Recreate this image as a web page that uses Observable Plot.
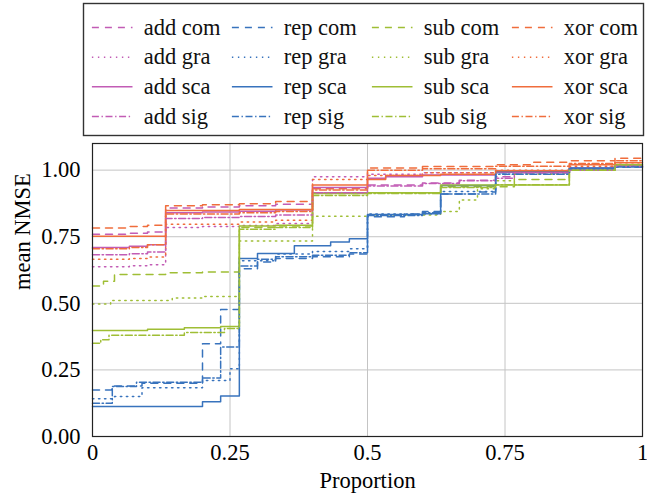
<!DOCTYPE html>
<html>
<head>
<meta charset="utf-8">
<script src="https://cdn.jsdelivr.net/npm/d3@7"></script>
<script src="https://cdn.jsdelivr.net/npm/@observablehq/plot@0.6"></script>
<style>
  html, body { margin: 0; padding: 0; background: white; }
  #chart svg { display: block; }
</style>
</head>
<body>
<div id="chart"></div>
<script>
// ---- data ----
const ops = ["add", "rep", "sub", "xor"];
const variants = ["com", "gra", "sca", "sig"];
const opColors = ["#c25cb5", "#3873bd", "#9fbe35", "#f06d3c"];
const xTicks = [0, 0.25, 0.5, 0.75, 1];
const yTicks = [0, 0.25, 0.5, 0.75, 1];

// [proportion, mean NMSE] step points (step-after)
const addCom = [[0,0.759],[0.067,0.763],[0.1,0.768],[0.133,0.858],[0.2,0.862],[0.267,0.866],[0.333,0.872],[0.4,0.915],[0.5,0.944],[0.6,0.952],[0.667,0.962],[0.733,0.975],[0.767,0.99],[0.867,1.005],[0.933,1.012],[1,1.012]];
const addGra = [[0,0.637],[0.067,0.641],[0.1,0.645],[0.133,0.785],[0.2,0.788],[0.267,0.792],[0.333,0.8],[0.4,0.975],[0.5,0.985],[0.6,0.99],[0.733,0.998],[0.867,1.008],[0.95,1.018],[1,1.018]];
const addSca = [[0,0.71],[0.067,0.714],[0.1,0.72],[0.133,0.84],[0.2,0.843],[0.267,0.846],[0.333,0.85],[0.4,0.935],[0.5,0.97],[0.533,0.975],[0.6,0.982],[0.733,0.992],[0.867,1.008],[0.95,1.018],[1,1.018]];
const addSig = [[0,0.682],[0.067,0.686],[0.1,0.693],[0.133,0.818],[0.2,0.822],[0.267,0.826],[0.333,0.832],[0.4,0.915],[0.5,0.94],[0.6,0.95],[0.667,0.96],[0.733,0.97],[0.767,0.99],[0.867,1.0],[0.95,1.015],[1,1.015]];

const repCom = [[0,0.175],[0.035,0.19],[0.09,0.2],[0.2,0.348],[0.233,0.477],[0.267,0.63],[0.3,0.655],[0.333,0.668],[0.4,0.675],[0.467,0.685],[0.5,0.825],[0.567,0.835],[0.6,0.845],[0.633,0.91],[0.7,0.918],[0.733,0.99],[0.867,1.005],[0.95,1.012],[1,1.012]];
const repGra = [[0,0.142],[0.04,0.15],[0.09,0.183],[0.2,0.21],[0.25,0.254],[0.267,0.66],[0.333,0.685],[0.4,0.695],[0.467,0.705],[0.5,0.835],[0.633,0.92],[0.733,0.99],[0.867,1.005],[0.95,1.012],[1,1.012]];
const repSca = [[0,0.113],[0.2,0.13],[0.233,0.152],[0.267,0.668],[0.3,0.687],[0.367,0.716],[0.433,0.73],[0.467,0.742],[0.5,0.833],[0.6,0.836],[0.633,0.942],[0.733,0.995],[0.867,1.008],[0.95,1.015],[1,1.015]];
const repSig = [[0,0.125],[0.036,0.188],[0.08,0.204],[0.2,0.22],[0.233,0.336],[0.267,0.64],[0.3,0.665],[0.333,0.675],[0.4,0.68],[0.467,0.69],[0.5,0.83],[0.6,0.84],[0.633,0.91],[0.733,0.985],[0.867,1.005],[0.95,1.012],[1,1.012]];

const subCom = [[0,0.565],[0.02,0.583],[0.04,0.608],[0.133,0.615],[0.2,0.618],[0.267,0.785],[0.333,0.79],[0.4,0.912],[0.5,0.915],[0.633,0.938],[0.767,0.965],[0.867,1.0],[0.95,1.02],[1,1.02]];
const subGra = [[0,0.497],[0.033,0.511],[0.145,0.52],[0.2,0.526],[0.267,0.734],[0.4,0.827],[0.5,0.832],[0.633,0.845],[0.667,0.888],[0.7,0.93],[0.733,0.96],[0.767,0.985],[0.867,1.0],[0.95,1.02],[1,1.02]];
const subSca = [[0,0.398],[0.1,0.403],[0.167,0.408],[0.233,0.413],[0.267,0.79],[0.333,0.793],[0.4,0.912],[0.5,0.915],[0.633,0.944],[0.867,1.0],[0.95,1.02],[1,1.02]];
const subSig = [[0,0.35],[0.015,0.363],[0.03,0.38],[0.167,0.39],[0.24,0.405],[0.267,0.778],[0.333,0.785],[0.4,0.905],[0.5,0.912],[0.633,0.935],[0.733,0.945],[0.867,1.0],[0.95,1.02],[1,1.02]];

const xorCom = [[0,0.783],[0.067,0.788],[0.1,0.793],[0.133,0.866],[0.2,0.87],[0.267,0.874],[0.333,0.882],[0.4,0.93],[0.5,1.008],[0.6,1.014],[0.733,1.02],[0.8,1.03],[0.867,1.035],[0.95,1.045],[1,1.045]];
const xorGra = [[0,0.665],[0.067,0.668],[0.1,0.674],[0.133,0.797],[0.267,0.805],[0.333,0.812],[0.4,0.965],[0.5,0.98],[0.6,0.99],[0.733,1.0],[0.867,1.015],[0.95,1.028],[1,1.028]];
const xorSca = [[0,0.752],[0.133,0.848],[0.267,0.852],[0.4,0.944],[0.5,0.965],[0.533,0.98],[0.633,0.985],[0.733,0.998],[0.867,1.02],[0.95,1.028],[1,1.028]];
const xorSig = [[0,0.705],[0.067,0.71],[0.1,0.72],[0.133,0.835],[0.267,0.84],[0.333,0.845],[0.4,0.925],[0.5,1.0],[0.6,1.005],[0.733,1.015],[0.867,1.025],[0.95,1.035],[1,1.035]];

// ---- build table ----
const seriesData = {
  add: {com: addCom, gra: addGra, sca: addSca, sig: addSig},
  rep: {com: repCom, gra: repGra, sca: repSca, sig: repSig},
  sub: {com: subCom, gra: subGra, sca: subSca, sig: subSig},
  xor: {com: xorCom, gra: xorGra, sca: xorSca, sig: xorSig}
};
const rows = [];
for (const v of variants) for (const o of ops)
  for (const [p, val] of seriesData[o][v]) rows.push({op: o, variant: v, series: o + " " + v, p, val});

const dash = {com: "7,6", gra: "1.4,4.6", sca: null, sig: "7,2.6,1.4,2.6"};
const font = "'Liberation Serif', 'Times New Roman', serif";
const fs = 22.5;

// ---- legend ----
const entries = [];
variants.forEach((v, r) => ops.forEach((o, c) => entries.push({op: o, variant: v, col: c, row: r})));

const legend = Plot.plot({
  width: 647, height: 138,
  marginLeft: 83, marginRight: 4, marginTop: 3, marginBottom: 3,
  style: {fontFamily: font, fontSize: fs + "px", background: "white", color: "black"},
  x: {domain: [0, 4], axis: null},
  y: {domain: [0, 3], range: [27, 116], axis: null},
  color: {domain: ops, range: opColors},
  marks: [
    Plot.frame({stroke: "#333", strokeWidth: 1.4}),
    ...variants.map(v => Plot.link(entries.filter(e => e.variant === v), {
      x1: d => d.col + 0.06, x2: d => d.col + 0.35, y1: "row", y2: "row",
      stroke: "op", strokeWidth: 1.5, strokeDasharray: dash[v] || undefined
    })),
    Plot.text(entries, {x: d => d.col + 0.43, y: "row", text: d => d.op + " " + d.variant,
      textAnchor: "start", fontSize: fs, fill: "#111"})
  ]
});

// ---- main chart ----
const chart = Plot.plot({
  width: 647, height: 358,
  marginTop: 5, marginBottom: 60, marginLeft: 92, marginRight: 5,
  style: {fontFamily: font, fontSize: fs + "px", background: "white", color: "black"},
  x: {domain: [0, 1]},
  y: {domain: [0, 1.1]},
  color: {domain: ops, range: opColors},
  marks: [
    Plot.gridX(xTicks, {stroke: "#c4c4c4", strokeOpacity: 1, strokeWidth: 1}),
    Plot.gridY(yTicks, {stroke: "#c4c4c4", strokeOpacity: 1, strokeWidth: 1}),
    ...variants.map(v => Plot.line(rows.filter(d => d.variant === v), {
      x: "p", y: "val", z: "series", stroke: "op", curve: "step-after",
      strokeWidth: 1.5, strokeDasharray: dash[v] || undefined
    })),
    Plot.frame({stroke: "#222", strokeWidth: 1.2}),
    Plot.axisX(xTicks, {tickSize: 0, tickPadding: 8, tickFormat: d => String(d), label: null, fontSize: fs}),
    Plot.axisY(yTicks, {tickSize: 0, tickPadding: 12, tickFormat: d3.format(".2f"), label: null, fontSize: fs}),
    Plot.text(["Proportion"], {text: d => d, frameAnchor: "bottom", dy: 51, fontSize: fs}),
    Plot.text(["mean NMSE"], {text: d => d, frameAnchor: "left", dx: -70, rotate: -90, fontSize: fs})
  ]
});

const el = document.getElementById("chart");
el.appendChild(legend);
el.appendChild(chart);
</script>
</body>
</html>
